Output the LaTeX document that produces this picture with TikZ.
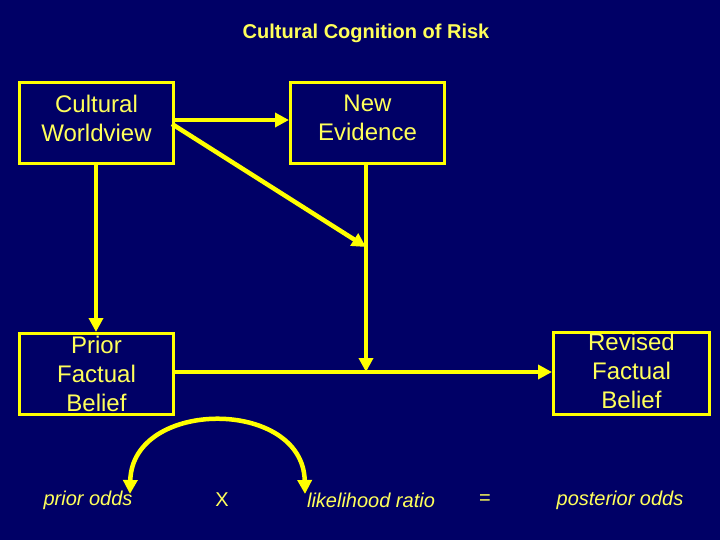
\documentclass[tikz,border=0pt]{standalone}
\usepackage{fontspec}
\setmainfont{Liberation Sans}
\usetikzlibrary{arrows.meta}
\definecolor{navy}{RGB}{0,0,102}
\definecolor{ylw}{RGB}{255,255,0}
\definecolor{ytxt}{RGB}{255,255,90}
\begin{document}
\begin{tikzpicture}[x=1pt,y=-1pt,
  boxnode/.style={draw=ylw,line width=3pt,minimum width=154pt,minimum height=81pt,inner sep=0pt,
    text=ytxt,font=\fontsize{24}{29}\selectfont,align=center,anchor=north west},
  conn/.style={draw=ylw,line width=4.5pt,-{Triangle[length=14pt,width=14pt]}},
  lbl/.style={text=ytxt,font=\fontsize{20}{24}\selectfont\itshape},
  sym/.style={text=ytxt,font=\fontsize{20}{24}\selectfont}]
\fill[navy] (0,0) rectangle (720,540);
\useasboundingbox (0,0) rectangle (720,540);
\node[text=ytxt,font=\fontsize{20}{24}\selectfont\bfseries] (title) at (366,33) {Cultural Cognition of Risk};
\node[boxnode,text depth=10pt] (cw) at (18,81) {Cultural\\Worldview};
\node[boxnode,text depth=10pt] (ne) at (289,81) {New\\Evidence};
\node[boxnode] (pf) at (18,332) {Prior\\Factual\\Belief};
\node[boxnode,minimum width=156pt,minimum height=82pt,text depth=6pt] (rf) at (552,331) {Revised\\Factual\\Belief};
\coordinate (j1) at (366,247);
\coordinate (j2) at (366,372);
\draw[conn] (cw.east|-0,120) -- (ne.west|-0,120);
\draw[conn] (172,124) -- (j1);
\draw[conn] (ne.south-|j1) -- (j2);
\draw[conn] (pf.east|-j2) -- (rf.west|-j2);
\draw[conn] (cw.south-|96,0) -- (pf.north-|96,0);
\node[lbl] (po) at (88,500) {prior odds};
\node[sym] (x) at (222,500) {X};
\node[lbl] (lr) at (371,500) {likelihood ratio};
\node[sym] (eq) at (485,500) {=};
\node[lbl] (pso) at (620,500) {posterior odds};
\coordinate (a1) at (130,494);
\coordinate (a2) at (305,494);
\draw[draw=ylw,line width=4.5pt,{Triangle[length=14pt,width=14pt]}-{Triangle[length=14pt,width=14pt]}] (a1) .. controls (132,398) and (303,398) .. (a2);
\end{tikzpicture}
\end{document}
